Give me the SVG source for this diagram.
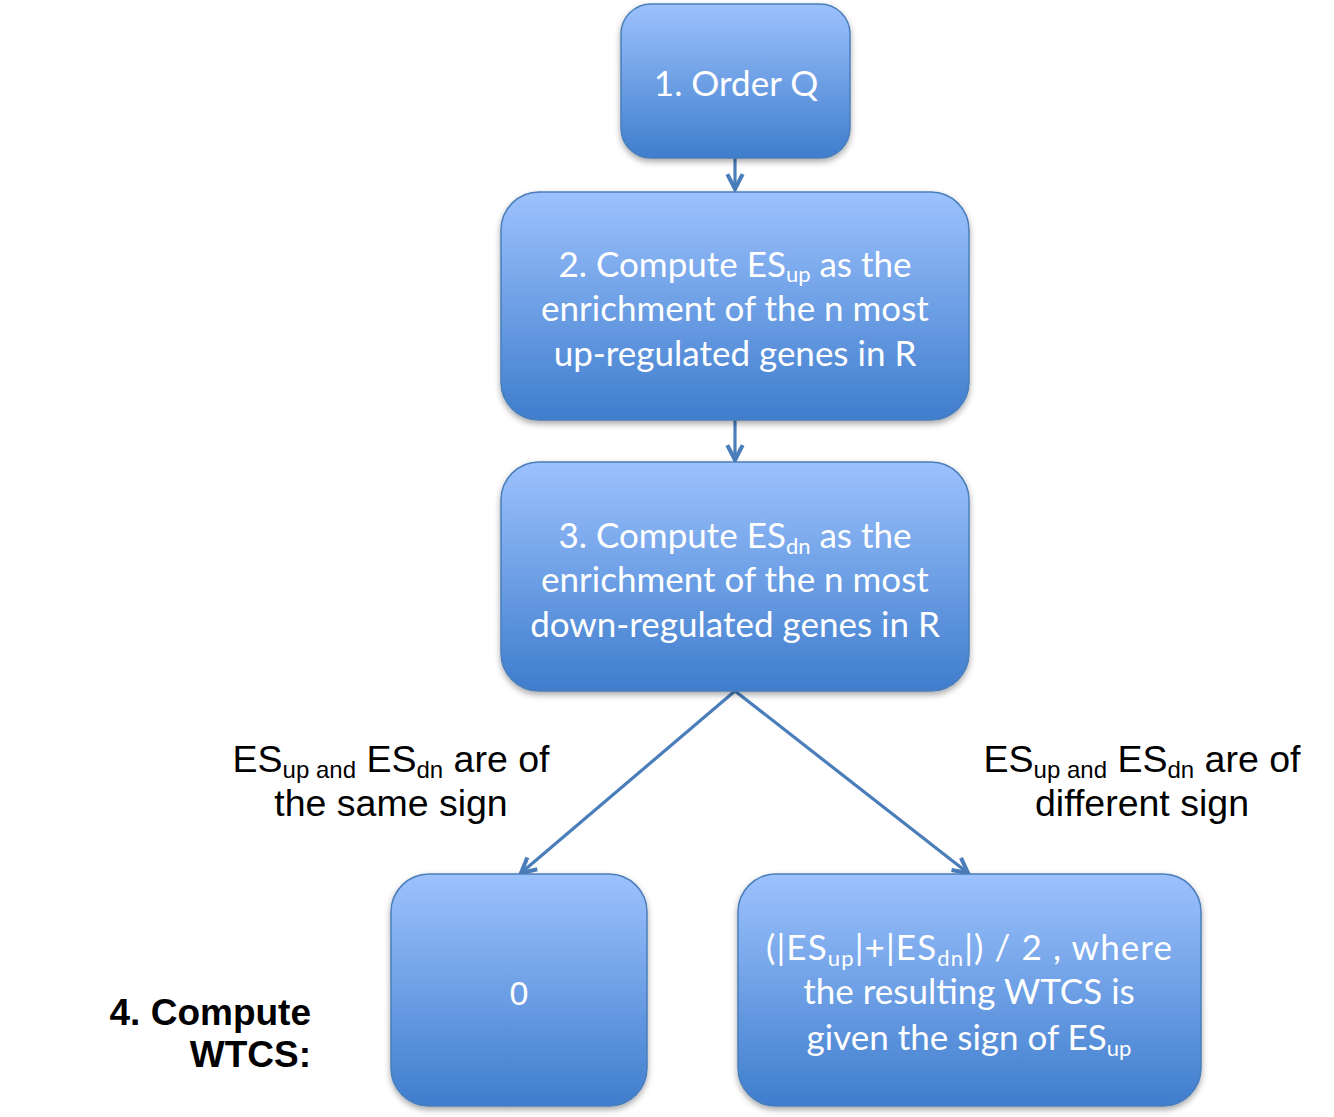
<svg xmlns="http://www.w3.org/2000/svg" width="1334" height="1117" viewBox="0 0 1334 1117">
<defs>
  <linearGradient id="g" x1="0" y1="0" x2="0" y2="1">
    <stop offset="0" stop-color="#9CC2FD"/>
    <stop offset="1" stop-color="#3F7DCD"/>
  </linearGradient>
  <filter id="sh" x="-10%" y="-10%" width="120%" height="130%">
    <feDropShadow dx="0" dy="3" stdDeviation="3" flood-color="#000" flood-opacity="0.35"/>
  </filter>
  <marker id="arr" viewBox="0 0 10 10" refX="8.4" refY="5" markerWidth="24" markerHeight="24" markerUnits="userSpaceOnUse" orient="auto">
    <path d="M2.2,1.8 L8.4,5 L2.2,8.2" fill="none" stroke="#4A7EBB" stroke-width="1.7" stroke-linejoin="miter"/>
  </marker>
  <style>
    .box { fill: url(#g); stroke: #4A7EBB; stroke-width: 1.5; filter: url(#sh); }
    .bt { font-family: Lato, "Liberation Sans", sans-serif; font-size: 35px; fill: #fff; text-anchor: middle; }
    .sub { font-size: 22px; }
    .lbl { font-family: "Liberation Sans", Arial, sans-serif; font-size: 37.5px; fill: #000; text-anchor: middle; }
    .lsub { font-size: 24px; }
    .bold { font-family: "Liberation Sans", Arial, sans-serif; font-size: 37px; font-weight: bold; fill: #000; text-anchor: end; }
    .conn { stroke: #4A7EBB; stroke-width: 3.2; fill: none; marker-end: url(#arr); }
  </style>
</defs>
<rect width="1334" height="1117" fill="#fff"/>

<g id="connectors">
  <line class="conn" x1="735" y1="158" x2="735" y2="189"/>
  <line class="conn" x1="735" y1="420" x2="735" y2="460"/>
  <line class="conn" x1="735" y1="691" x2="521" y2="873"/>
  <line class="conn" x1="735" y1="691" x2="968" y2="873"/>
</g>

<g id="node1">
  <rect class="box" x="621" y="4" width="229" height="154" rx="30"/>
  <text class="bt" x="736" y="96">1. Order Q</text>
</g>

<g id="node2">
  <rect class="box" x="501" y="192" width="468" height="228" rx="38"/>
  <text class="bt" x="735" y="277">2. Compute ES<tspan class="sub" dy="5">up</tspan><tspan dy="-5"> as the</tspan></text>
  <text class="bt" x="735" y="321">enrichment of the n most</text>
  <text class="bt" x="735" y="366">up-regulated genes in R</text>
</g>

<g id="node3">
  <rect class="box" x="501" y="462" width="468" height="229" rx="38"/>
  <text class="bt" x="735" y="548">3. Compute ES<tspan class="sub" dy="6">dn</tspan><tspan dy="-6"> as the</tspan></text>
  <text class="bt" x="735" y="592">enrichment of the n most</text>
  <text class="bt" x="735" y="637">down-regulated genes in R</text>
</g>

<g id="label-same">
  <text class="lbl" x="391" y="772">ES<tspan class="lsub" dy="6">up and</tspan><tspan dy="-6"> ES</tspan><tspan class="lsub" dy="6">dn</tspan><tspan dy="-6"> are of</tspan></text>
  <text class="lbl" x="391" y="816">the same sign</text>
</g>

<g id="label-diff">
  <text class="lbl" x="1142" y="772">ES<tspan class="lsub" dy="6">up and</tspan><tspan dy="-6"> ES</tspan><tspan class="lsub" dy="6">dn</tspan><tspan dy="-6"> are of</tspan></text>
  <text class="lbl" x="1142" y="816">different sign</text>
</g>

<g id="node4">
  <rect class="box" x="391" y="874" width="256" height="232" rx="38"/>
  <text x="519" y="1005" font-family="Liberation Sans, Arial, sans-serif" font-size="34" fill="#fff" text-anchor="middle">0</text>
</g>

<g id="node5">
  <rect class="box" x="738" y="874" width="463" height="232" rx="38"/>
  <text class="bt" x="969" y="960" textLength="406" lengthAdjust="spacing">(|ES<tspan class="sub" dy="6">up</tspan><tspan dy="-6">|+|ES</tspan><tspan class="sub" dy="6">dn</tspan><tspan dy="-6">|) / 2 , where</tspan></text>
  <text class="bt" x="969" y="1004">the resulting WTCS is</text>
  <text class="bt" x="969" y="1050">given the sign of ES<tspan class="sub" dy="6">up</tspan></text>
</g>

<g id="step4-label">
  <text class="bold" x="311" y="1025">4. Compute</text>
  <text class="bold" x="311" y="1067">WTCS:</text>
</g>
</svg>
